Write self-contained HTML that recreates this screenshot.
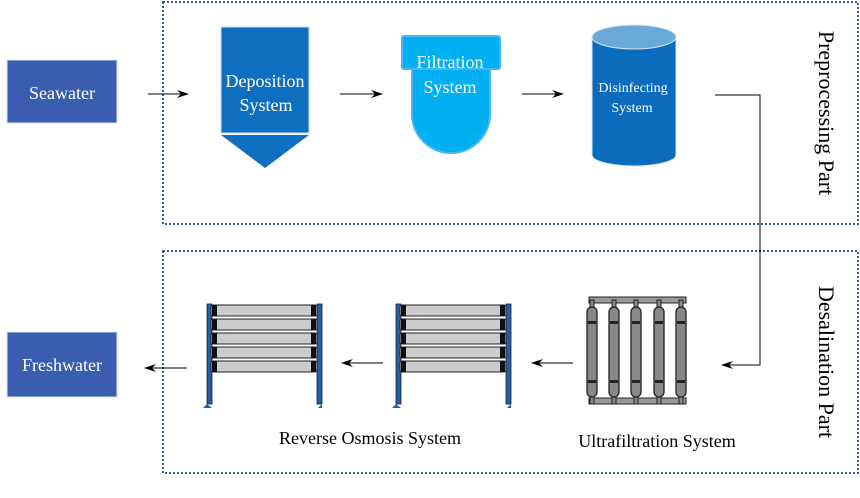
<!DOCTYPE html>
<html><head><meta charset="utf-8"><style>
html,body{margin:0;padding:0;background:#fff;width:860px;height:498px;overflow:hidden}
svg{display:block}
</style></head><body>
<svg width="860" height="498" viewBox="0 0 860 498" xmlns="http://www.w3.org/2000/svg" font-family="'Liberation Serif', serif">
<defs>
<marker id="ah" markerWidth="12" markerHeight="8" refX="11" refY="4" orient="auto" markerUnits="userSpaceOnUse">
<path d="M0,0 L12,4 L0,8 L4,4 Z" fill="#000"/></marker>
<g id="ro">
<rect x="0" y="0" width="5" height="100" fill="#2a5da8" stroke="#123" stroke-width="0.8"/>
<rect x="110" y="0" width="5" height="100" fill="#2a5da8" stroke="#123" stroke-width="0.8"/>
<path d="M0,100 L-4,104 L5,104 Z" fill="#2a5da8"/>
<path d="M115,100 L111,104 L115,104 Z" fill="#2a5da8"/>
<g fill="#ccc" stroke="#222" stroke-width="1">
<rect x="4" y="1" width="106" height="11" rx="2"/>
<rect x="4" y="15" width="106" height="11" rx="2"/>
<rect x="4" y="29" width="106" height="11" rx="2"/>
<rect x="4" y="43" width="106" height="11" rx="2"/>
<rect x="4" y="57" width="106" height="11" rx="2"/>
</g>
<g fill="#111"><rect x="5" y="1" width="5" height="11"/><rect x="5" y="15" width="5" height="11"/><rect x="5" y="29" width="5" height="11"/><rect x="5" y="43" width="5" height="11"/><rect x="5" y="57" width="5" height="11"/>
<rect x="104" y="1" width="5" height="11"/><rect x="104" y="15" width="5" height="11"/><rect x="104" y="29" width="5" height="11"/><rect x="104" y="43" width="5" height="11"/><rect x="104" y="57" width="5" height="11"/></g>
</g>
<g id="uf">
<rect x="3" y="-7" width="4" height="8" fill="#888" stroke="#222" stroke-width="1"/>
<rect x="3" y="89" width="4" height="8" fill="#888" stroke="#222" stroke-width="1"/>
<rect x="0" y="0" width="10" height="90" rx="5" fill="#888" stroke="#222" stroke-width="1.3"/>
<rect x="1" y="14" width="8" height="3" fill="#222"/><rect x="1" y="73" width="8" height="3" fill="#222"/>
</g>
</defs>

<rect x="163" y="2" width="695" height="222" fill="none" stroke="#2e5f90" stroke-width="2" stroke-dasharray="2,2"/>
<rect x="163" y="251" width="695" height="222" fill="none" stroke="#2e5f90" stroke-width="2" stroke-dasharray="2,2"/>

<rect x="7" y="60" width="110" height="63" fill="#3a5db0" stroke="#dce4f2" stroke-width="1"/>
<text x="62" y="99" font-size="18" fill="#fff" text-anchor="middle">Seawater</text>
<rect x="7" y="332" width="110" height="65" fill="#3a5db0" stroke="#dce4f2" stroke-width="1"/>
<text x="62" y="371" font-size="18" fill="#fff" text-anchor="middle">Freshwater</text>

<rect x="221" y="27" width="88" height="106" fill="#0e6fc0" stroke="#cfe3f4" stroke-width="1"/>
<path d="M221,135 L309,135 L265,168 Z" fill="#0e6fc0"/>
<text x="265" y="87" font-size="18" fill="#fff" text-anchor="middle">Deposition</text>
<text x="266" y="111" font-size="18" fill="#fff" text-anchor="middle">System</text>

<path d="M412,69 L412,114 A39,39 0 0 0 490,114 L490,69 Z" fill="#00b0f0" stroke="#4ab4f8" stroke-width="2"/>
<rect x="402" y="36" width="98" height="33" rx="2" fill="#00b0f0" stroke="#4ab4f8" stroke-width="2"/>
<text x="450" y="68" font-size="18" fill="#fff" text-anchor="middle">Filtration</text>
<text x="450" y="93" font-size="18" fill="#fff" text-anchor="middle">System</text>

<path d="M592,37 L592,155 A42,11 0 0 0 676,155 L676,37 Z" fill="#0b6cbd" stroke="#d4e6f4" stroke-width="1"/>
<ellipse cx="634" cy="37" rx="42" ry="12" fill="#6aa8d8" stroke="#d4e6f4" stroke-width="1"/>
<text x="633" y="92" font-size="14" fill="#fff" text-anchor="middle">Disinfecting</text>
<text x="632" y="112" font-size="14" fill="#fff" text-anchor="middle">System</text>

<g stroke="#000" stroke-width="1" fill="none">
<line x1="148" y1="94" x2="188" y2="94" marker-end="url(#ah)"/>
<line x1="340" y1="94" x2="382" y2="94" marker-end="url(#ah)"/>
<line x1="522" y1="94" x2="563" y2="94" marker-end="url(#ah)"/>
<polyline points="715,95 760,95 760,365 722,365" marker-end="url(#ah)"/>
<line x1="383" y1="363" x2="342" y2="363" marker-end="url(#ah)"/>
<line x1="573" y1="363" x2="532" y2="363" marker-end="url(#ah)"/>
<line x1="187" y1="368" x2="145" y2="368" marker-end="url(#ah)"/>
</g>

<use href="#ro" x="207" y="304"/>
<use href="#ro" x="396" y="304"/>

<rect x="589" y="297" width="97" height="6" fill="#999" stroke="#222" stroke-width="1"/>
<rect x="589" y="398" width="97" height="6" fill="#999" stroke="#222" stroke-width="1"/>
<use href="#uf" x="587" y="307"/>
<use href="#uf" x="609" y="307"/>
<use href="#uf" x="631" y="307"/>
<use href="#uf" x="654" y="307"/>
<use href="#uf" x="676" y="307"/>

<text x="370" y="444" font-size="18" fill="#000" text-anchor="middle">Reverse Osmosis System</text>
<text x="657" y="447" font-size="18" fill="#000" text-anchor="middle">Ultrafiltration System</text>

<text transform="translate(819,113) rotate(90)" font-size="22" fill="#000" text-anchor="middle">Preprocessing Part</text>
<text transform="translate(819,362) rotate(90)" font-size="22" fill="#000" text-anchor="middle">Desalination Part</text>
</svg>
</body></html>
